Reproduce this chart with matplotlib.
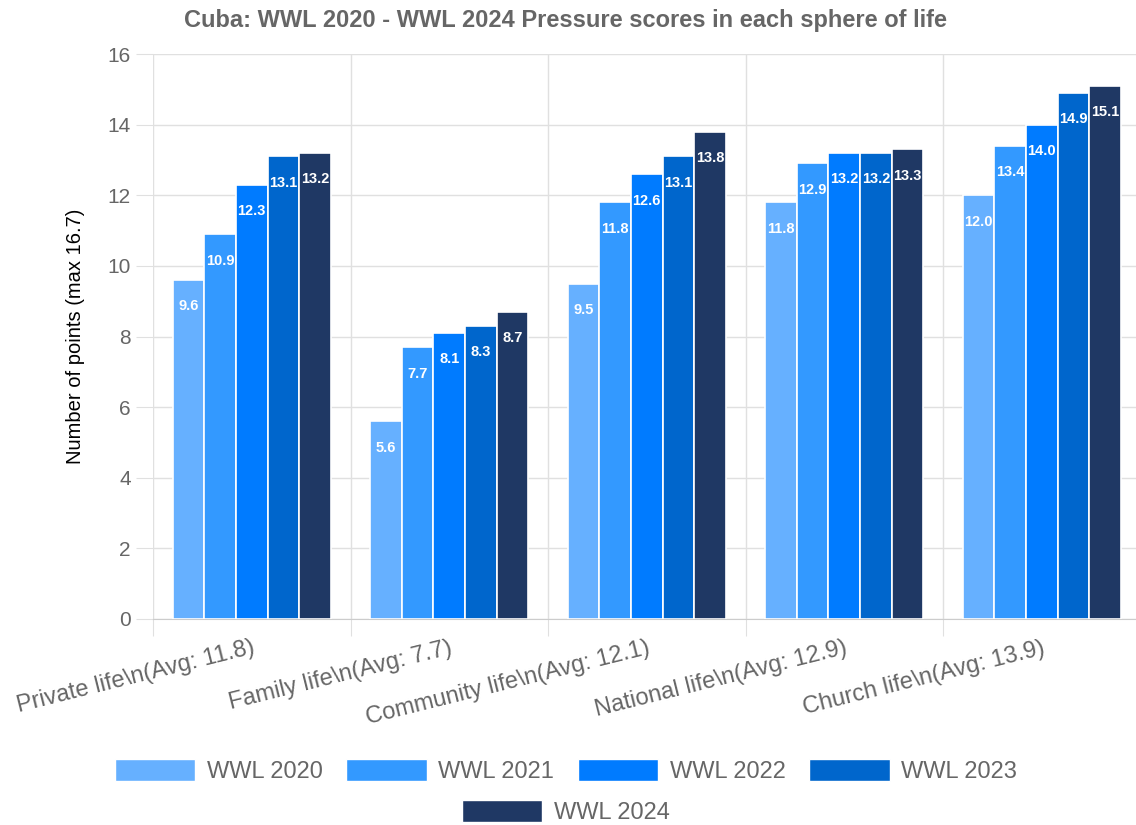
import matplotlib.pyplot as plt
import matplotlib.patches as mpatches
import numpy as np

plt.rcParams['font.family'] = ['Liberation Sans', 'DejaVu Sans']

categories = ["Private life\\n(Avg: 11.8)", "Family life\\n(Avg: 7.7)",
              "Community life\\n(Avg: 12.1)", "National life\\n(Avg: 12.9)",
              "Church life\\n(Avg: 13.9)"]
years = ["WWL 2020", "WWL 2021", "WWL 2022", "WWL 2023", "WWL 2024"]
wwl2020 = [9.6, 5.6, 9.5, 11.8, 12.0]
wwl2021 = [10.9, 7.7, 11.8, 12.9, 13.4]
wwl2022 = [12.3, 8.1, 12.6, 13.2, 14.0]
wwl2023 = [13.1, 8.3, 13.1, 13.2, 14.9]
wwl2024 = [13.2, 8.7, 13.8, 13.3, 15.1]
series = [wwl2020, wwl2021, wwl2022, wwl2023, wwl2024]
colors = ["#66b0ff", "#3399ff", "#007bff", "#0066cc", "#1f3864"]

grid_c = "#e0e0e0"
text_c = "#666666"

fig = plt.figure(figsize=(11.36, 8.25), dpi=100)
ax = fig.add_axes([153 / 1136, 1 - 619 / 825, 987.5 / 1136, 565 / 825])

x = np.arange(len(categories))
w = 0.16
handles = []
for i, (vals, col, name) in enumerate(zip(series, colors, years)):
    pos = x + (i - 2) * w
    ax.bar(pos, vals, width=w, color=col, edgecolor="white", linewidth=1.2, zorder=3)
    handles.append(mpatches.Patch(facecolor=col, edgecolor="white", label=name))
    for xp, v in zip(pos, vals):
        ax.text(xp, v - 0.75, f"{v:.1f}", ha="center", va="center", color="white",
                fontsize=10.5, fontweight="bold", zorder=4)

ax.set_xlim(-0.5, len(categories) - 0.5)
ax.set_ylim(0, 16)
ax.set_yticks(range(0, 17, 2))
ax.set_xticks(np.arange(-0.5, len(categories), 1.0))
ax.set_xticklabels([])
ax.set_xticks(x, minor=True)
ax.set_xticklabels(categories, minor=True, rotation=14, ha="right",
                   rotation_mode="anchor", color=text_c, fontsize=17)
ax.tick_params(axis="x", which="minor", length=0, pad=13)
ax.tick_params(axis="x", which="major", length=12, color=grid_c)
ax.tick_params(axis="y", length=12, color=grid_c, labelcolor=text_c, labelsize=15, pad=4)
ax.grid(True, color=grid_c, linewidth=1, zorder=0)
for s in ["top", "right", "left"]:
    ax.spines[s].set_visible(False)
ax.spines["bottom"].set_color("#cccccc")

ax.set_ylabel("Number of points (max 16.7)", fontsize=14.5, color="black")
ax.yaxis.set_label_coords((85 - 153) / 987.5, 0.5)
fig.text(566 / 1136, 1 - 20 / 825, "Cuba: WWL 2020 - WWL 2024 Pressure scores in each sphere of life",
         ha="center", va="center", fontsize=17, fontweight="bold", color=text_c)

fig.legend(handles=handles[:4], loc="center", bbox_to_anchor=(566 / 1136, 1 - 771 / 825),
           ncol=4, frameon=False, fontsize=17, handlelength=3.4, handleheight=1.05,
           columnspacing=1.0, handletextpad=0.5, labelcolor=text_c)
fig.legend(handles=handles[4:], loc="center", bbox_to_anchor=(566 / 1136, 1 - 812 / 825),
           frameon=False, fontsize=17, handlelength=3.4, handleheight=1.05,
           handletextpad=0.5, labelcolor=text_c)

fig.savefig("out.png", dpi=100)
